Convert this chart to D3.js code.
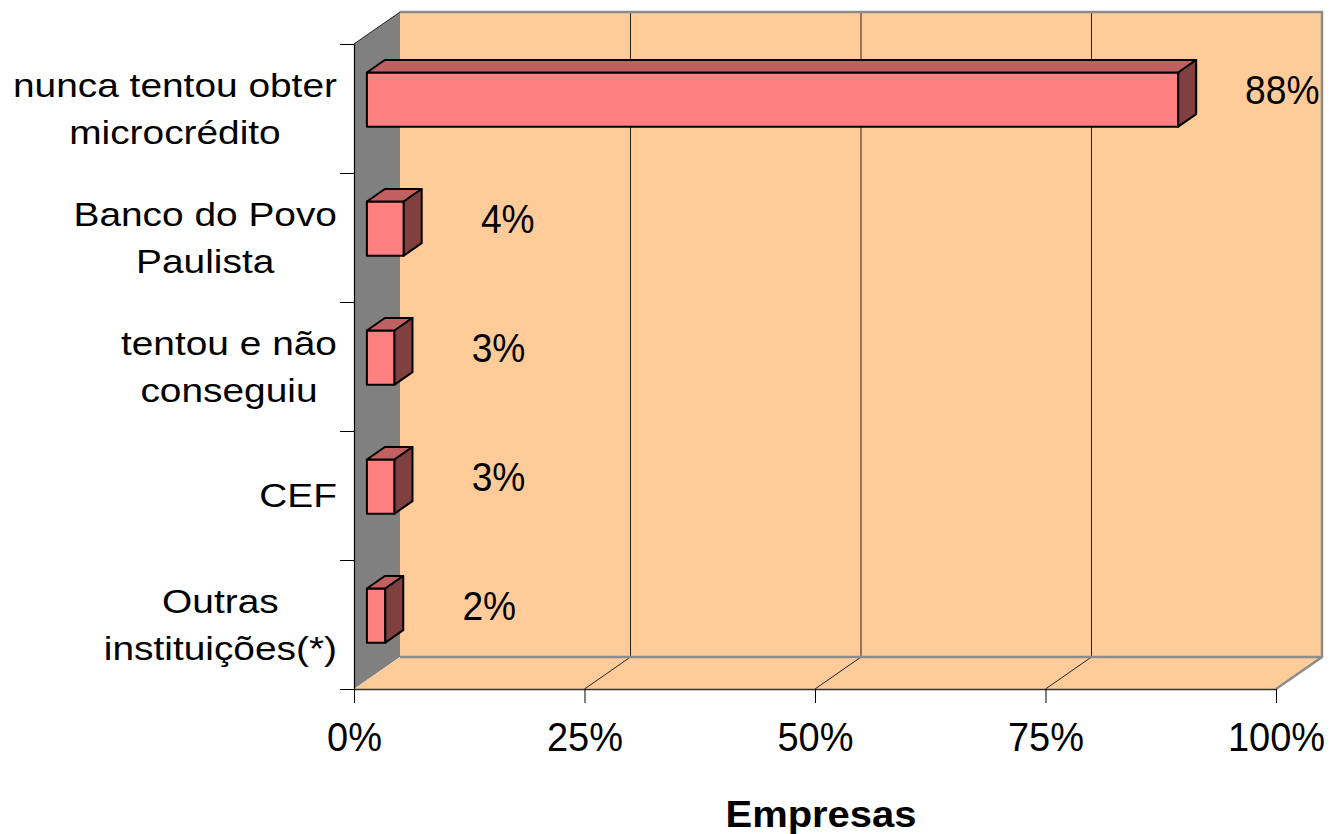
<!DOCTYPE html>
<html>
<head>
<meta charset="utf-8">
<script src="https://cdn.jsdelivr.net/npm/d3@7"></script>
<style>
  html, body { margin: 0; padding: 0; background: #fff; }
  svg { display: block; font-family: "Liberation Sans", Arial, sans-serif; }
</style>
</head>
<body>
<svg id="chart" width="1331" height="834"></svg>
<script>
// Categories (label lines separated by "\n") and their shares, in percent
const categories = [
  "nunca tentou obter\nmicrocrédito",
  "Banco do Povo\nPaulista",
  "tentou e não\nconseguiu",
  "CEF",
  "Outras\ninstituições(*)"
];
const values = [88, 4, 3, 3, 2];
const xTicks = [0, 25, 50, 75, 100];
const axisTitle = "Empresas";

const svg = d3.select("#chart");

// Front plane of the 3-D box and the depth offset of its back plane
const boxLeft = 354, boxRight = 1276, boxTop = 44, boxBottom = 689;
const depthX = 46, depthY = -32;
const proj = (px, py, z) => [px + depthX * z, py + depthY * z];

const x = d3.scaleLinear().domain([0, 100]).range([boxLeft, boxRight]);
const y = d3.scaleBand().domain(categories).range([boxTop, boxBottom])
  .paddingInner(0.58).paddingOuter(0.29);
const yEdge = d3.scaleLinear().domain([0, categories.length]).range([boxTop, boxBottom]);

const peach = "#FFCC99";
const wallGray = "#808080";
const line = d3.line();

// Side wall (left)
svg.append("path")
  .attr("d", line([proj(boxLeft, boxTop, 0), proj(boxLeft, boxTop, 1), proj(boxLeft, boxBottom, 1), proj(boxLeft, boxBottom, 0)]) + "Z")
  .attr("fill", wallGray);

// Back wall
svg.append("path")
  .attr("d", line([proj(boxLeft, boxTop, 1), proj(boxRight, boxTop, 1), proj(boxRight, boxBottom, 1), proj(boxLeft, boxBottom, 1)]) + "Z")
  .attr("fill", peach);

// Floor
svg.append("path")
  .attr("d", line([proj(boxLeft, boxBottom, 0), proj(boxLeft, boxBottom, 1), proj(boxRight, boxBottom, 1), proj(boxRight, boxBottom, 0)]) + "Z")
  .attr("fill", peach);

// Gridlines on the back wall and across the floor
const inner = xTicks.filter(t => t > 0 && t < 100);
svg.append("g").selectAll("path").data(inner).join("path")
  .attr("d", t => line([proj(x(t), boxBottom, 0), proj(x(t), boxBottom, 1), proj(x(t), boxTop, 1)]))
  .attr("fill", "none").attr("stroke", "#222").attr("stroke-width", 1);

// Box edges
svg.append("path")
  .attr("d", line([proj(boxLeft, boxTop, 1), proj(boxRight, boxTop, 1), proj(boxRight, boxBottom, 1), proj(boxRight, boxBottom, 0)]))
  .attr("fill", "none").attr("stroke", "#8c8c8c").attr("stroke-width", 2.5);
svg.append("path")
  .attr("d", line([proj(boxLeft, boxBottom, 1), proj(boxRight, boxBottom, 1)]))
  .attr("fill", "none").attr("stroke", "#8c8c8c").attr("stroke-width", 2.5);
svg.append("path")
  .attr("d", line([proj(boxLeft, boxTop, 0), proj(boxLeft, boxTop, 1)]))
  .attr("fill", "none").attr("stroke", "#222").attr("stroke-width", 1);

// Bars: front face, top face and right side of each box
const zFront = 0.28, zBack = 0.67;
const rows = categories.map((c, i) => ({ c, v: values[i] }));
const bars = svg.append("g").selectAll("g").data(rows).join("g");
bars.each(function(d) {
  const g = d3.select(this);
  const x0 = x(0), x1 = x(d.v);
  const y0 = y(d.c), y1 = y(d.c) + y.bandwidth();
  const face = (pts, fill) => g.append("path")
    .attr("d", line(pts) + "Z")
    .attr("fill", fill).attr("stroke", "#000").attr("stroke-width", 2).attr("stroke-linejoin", "round");
  face([proj(x0, y0, zFront), proj(x1, y0, zFront), proj(x1, y1, zFront), proj(x0, y1, zFront)], "#FF8080");
  face([proj(x0, y0, zFront), proj(x0, y0, zBack), proj(x1, y0, zBack), proj(x1, y0, zFront)], "#C06060");
  face([proj(x1, y0, zFront), proj(x1, y0, zBack), proj(x1, y1, zBack), proj(x1, y1, zFront)], "#804040");
});

// Value labels
svg.append("g").selectAll("text").data(rows).join("text")
  .attr("transform", d => {
    const [fx, fy] = proj(x(d.v), y(d.c) + y.bandwidth() / 2, zFront);
    return `translate(${fx + 104},${fy - 10 + 14.3}) scale(0.93,1)`;
  })
  .attr("text-anchor", "middle")
  .attr("font-size", 40)
  .attr("fill", "#000")
  .text(d => d.v + "%");

// Bottom axis
const xAxis = svg.append("g")
  .attr("transform", `translate(0,${boxBottom})`)
  .call(d3.axisBottom(x).tickValues(xTicks).tickFormat(d => d + "%").tickSize(14).tickSizeOuter(0));
xAxis.select(".domain").attr("stroke", "#333").attr("stroke-width", 1.5);
xAxis.selectAll(".tick line").attr("stroke", "#000").attr("stroke-width", 1);
xAxis.selectAll(".tick text")
  .attr("y", 62).attr("dy", null)
  .attr("transform", "scale(0.95,1)")
  .attr("font-size", 40)
  .attr("font-family", "Liberation Sans, Arial, sans-serif")
  .attr("fill", "#000");

// Left axis with ticks between the categories
const yAxis = svg.append("g")
  .attr("transform", `translate(${boxLeft},0)`)
  .call(d3.axisLeft(yEdge).tickValues(d3.range(categories.length + 1)).tickFormat("").tickSize(14).tickSizeOuter(0));
yAxis.select(".domain").attr("stroke", "#000").attr("stroke-width", 1.2);
yAxis.selectAll(".tick line").attr("stroke", "#000").attr("stroke-width", 1);

// Category labels: centred lines, block right-aligned next to the axis
const labelRight = 337, labelScale = 1.16, lineGap = 46.5;
categories.forEach(c => {
  const lines = c.split("\n");
  const cy = y(c) + y.bandwidth() / 2;
  const t = svg.append("text")
    .attr("text-anchor", "middle")
    .attr("font-size", 33.5)
    .attr("fill", "#000");
  lines.forEach((ln, i) => {
    t.append("tspan")
      .attr("x", 0)
      .attr("y", cy + (i - (lines.length - 1) / 2) * lineGap + 12)
      .text(ln);
  });
  const w = t.node().getBBox().width * labelScale;
  t.attr("transform", `translate(${labelRight - w / 2},0) scale(${labelScale},1)`);
});

// Axis title
svg.append("text")
  .attr("transform", `translate(${(x(0) + x(100)) / 2 + 6},827) scale(1.1,1)`)
  .attr("text-anchor", "middle")
  .attr("font-size", 36.3)
  .attr("font-weight", "bold")
  .attr("fill", "#000")
  .text(axisTitle);
</script>
</body>
</html>
